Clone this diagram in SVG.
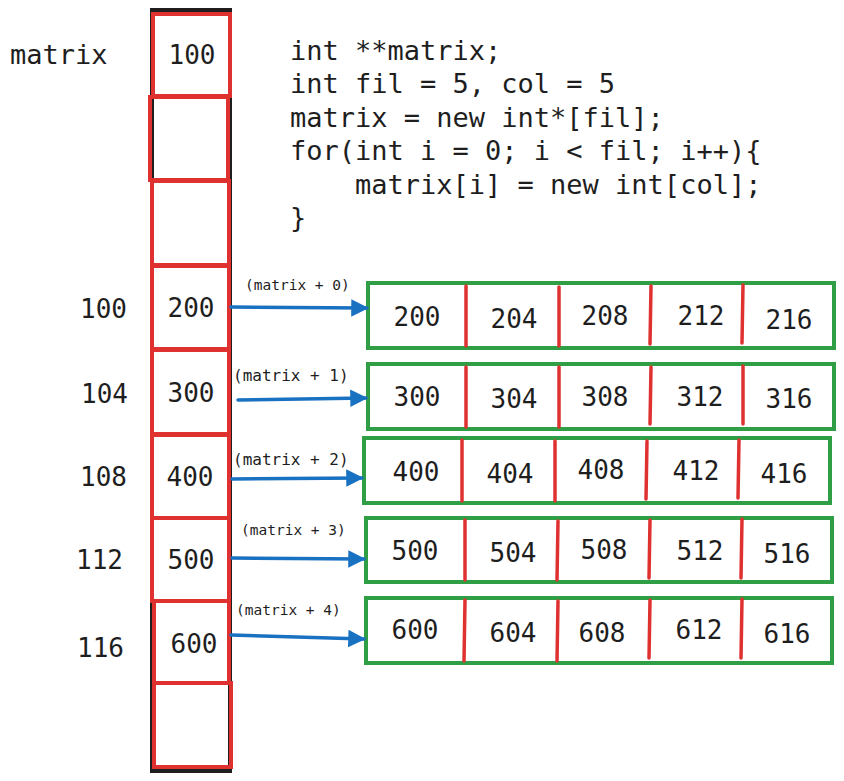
<svg xmlns="http://www.w3.org/2000/svg" width="844" height="781" viewBox="0 0 844 781">
<defs>
<style>
.t{font-family:"DejaVu Sans Mono","Liberation Mono",monospace;fill:#1e1e1e}
.big{font-size:26px}
.code{font-size:27px}
.sm{font-size:14.5px}
.cell{fill:none;stroke:#e03131;stroke-width:4}
.arr{fill:none;stroke:#2f9e44;stroke-width:4}
.div{stroke:#e03131;stroke-width:3.5;stroke-linecap:round}
.con{stroke:#1971c2;stroke-width:3.5;fill:none;stroke-linecap:round}
</style>
<marker id="ah" markerWidth="5" markerHeight="5" refX="4.5" refY="2.5" orient="auto" markerUnits="strokeWidth">
<path d="M0,0 L5,2.5 L0,5 z" fill="#1971c2"/>
</marker>
</defs>
<rect width="844" height="781" fill="#fff"/>

<g id="label-matrix"><text class="t code" x="10" y="64">matrix</text></g>

<g id="column">
<rect x="152" y="10" width="78" height="761" fill="none" stroke="#1e1e1e" stroke-width="4"/>
<rect class="cell" x="153" y="14" width="77" height="82"/>
<rect class="cell" x="150" y="97" width="78" height="83"/>
<rect class="cell" x="152" y="181" width="77" height="84"/>
<rect class="cell" x="152" y="266" width="77" height="83"/>
<rect class="cell" x="152" y="350" width="77" height="84"/>
<rect class="cell" x="152" y="435" width="77" height="83"/>
<rect class="cell" x="152" y="518" width="77" height="83"/>
<rect class="cell" x="154" y="601" width="75" height="82"/>
<rect class="cell" x="154" y="683" width="77" height="84"/>
<text class="t big" x="192" y="64" text-anchor="middle">100</text>
<text class="t big" x="191" y="317" text-anchor="middle">200</text>
<text class="t big" x="191" y="402" text-anchor="middle">300</text>
<text class="t big" x="190" y="486" text-anchor="middle">400</text>
<text class="t big" x="191" y="569" text-anchor="middle">500</text>
<text class="t big" x="194" y="653" text-anchor="middle">600</text>
</g>

<g id="addresses">
<text class="t big" x="80" y="318">100</text>
<text class="t big" x="81" y="403">104</text>
<text class="t big" x="80" y="486">108</text>
<text class="t big" x="76" y="569">112</text>
<text class="t big" x="77" y="657">116</text>
</g>

<g id="code">
<text class="t code" x="290" y="60">int **matrix;</text>
<text class="t code" x="290" y="93">int fil = 5, col = 5</text>
<text class="t code" x="290" y="127">matrix = new int*[fil];</text>
<text class="t code" x="290" y="160">for(int i = 0; i &lt; fil; i++){</text>
<text class="t code" x="290" y="194" xml:space="preserve">    matrix[i] = new int[col];</text>
<text class="t code" x="290" y="227">}</text>
</g>

<g id="row0">
<rect class="arr" x="368" y="283" width="466" height="65"/>
<line class="div" x1="466" y1="286" x2="466" y2="346"/>
<line class="div" x1="559" y1="287" x2="559" y2="346"/>
<line class="div" x1="651" y1="286" x2="650" y2="344"/>
<line class="div" x1="743" y1="285" x2="742" y2="343"/>
<text class="t big" x="417" y="326" text-anchor="middle">200</text>
<text class="t big" x="514" y="328" text-anchor="middle">204</text>
<text class="t big" x="605" y="325" text-anchor="middle">208</text>
<text class="t big" x="701" y="325" text-anchor="middle">212</text>
<text class="t big" x="789" y="329" text-anchor="middle">216</text>
</g>

<g id="row1">
<rect class="arr" x="368" y="364" width="466" height="65"/>
<line class="div" x1="466" y1="367" x2="466" y2="427"/>
<line class="div" x1="559" y1="367" x2="559" y2="427"/>
<line class="div" x1="651" y1="367" x2="650" y2="424"/>
<line class="div" x1="743" y1="366" x2="743" y2="424"/>
<text class="t big" x="417" y="406" text-anchor="middle">300</text>
<text class="t big" x="514" y="408" text-anchor="middle">304</text>
<text class="t big" x="605" y="406" text-anchor="middle">308</text>
<text class="t big" x="700" y="406" text-anchor="middle">312</text>
<text class="t big" x="789" y="408" text-anchor="middle">316</text>
</g>

<g id="row2">
<rect class="arr" x="364" y="438" width="466" height="65"/>
<line class="div" x1="462" y1="440" x2="462" y2="501"/>
<line class="div" x1="555" y1="441" x2="555" y2="501"/>
<line class="div" x1="647" y1="441" x2="646" y2="499"/>
<line class="div" x1="739" y1="440" x2="738" y2="498"/>
<text class="t big" x="416" y="481" text-anchor="middle">400</text>
<text class="t big" x="510" y="483" text-anchor="middle">404</text>
<text class="t big" x="601" y="479" text-anchor="middle">408</text>
<text class="t big" x="696" y="480" text-anchor="middle">412</text>
<text class="t big" x="784" y="483" text-anchor="middle">416</text>
</g>

<g id="row3">
<rect class="arr" x="366" y="518" width="466" height="64"/>
<line class="div" x1="465" y1="520" x2="465" y2="580"/>
<line class="div" x1="558" y1="521" x2="557" y2="580"/>
<line class="div" x1="650" y1="520" x2="649" y2="578"/>
<line class="div" x1="742" y1="519" x2="741" y2="578"/>
<text class="t big" x="415" y="560" text-anchor="middle">500</text>
<text class="t big" x="513" y="562" text-anchor="middle">504</text>
<text class="t big" x="604" y="559" text-anchor="middle">508</text>
<text class="t big" x="700" y="560" text-anchor="middle">512</text>
<text class="t big" x="787" y="563" text-anchor="middle">516</text>
</g>

<g id="row4">
<rect class="arr" x="366" y="598" width="466" height="65"/>
<line class="div" x1="465" y1="600" x2="464" y2="661"/>
<line class="div" x1="558" y1="601" x2="557" y2="661"/>
<line class="div" x1="650" y1="600" x2="649" y2="658"/>
<line class="div" x1="742" y1="599" x2="741" y2="658"/>
<text class="t big" x="415" y="639" text-anchor="middle">600</text>
<text class="t big" x="513" y="642" text-anchor="middle">604</text>
<text class="t big" x="602" y="642" text-anchor="middle">608</text>
<text class="t big" x="699" y="639" text-anchor="middle">612</text>
<text class="t big" x="787" y="643" text-anchor="middle">616</text>
</g>

<g id="connectors">
<line class="con" x1="231" y1="307" x2="367" y2="308" marker-end="url(#ah)"/>
<line class="con" x1="238" y1="400" x2="366" y2="398" marker-end="url(#ah)"/>
<line class="con" x1="232" y1="479" x2="362" y2="478" marker-end="url(#ah)"/>
<line class="con" x1="232" y1="558" x2="364" y2="559" marker-end="url(#ah)"/>
<line class="con" x1="231" y1="635" x2="364" y2="639" marker-end="url(#ah)"/>
<text class="t sm" x="245" y="290">(matrix + 0)</text>
<text class="t sm" x="233" y="381" style="font-size:16px">(matrix + 1)</text>
<text class="t sm" x="233" y="465" style="font-size:16px">(matrix + 2)</text>
<text class="t sm" x="241" y="535">(matrix + 3)</text>
<text class="t sm" x="236" y="615">(matrix + 4)</text>
</g>
</svg>
